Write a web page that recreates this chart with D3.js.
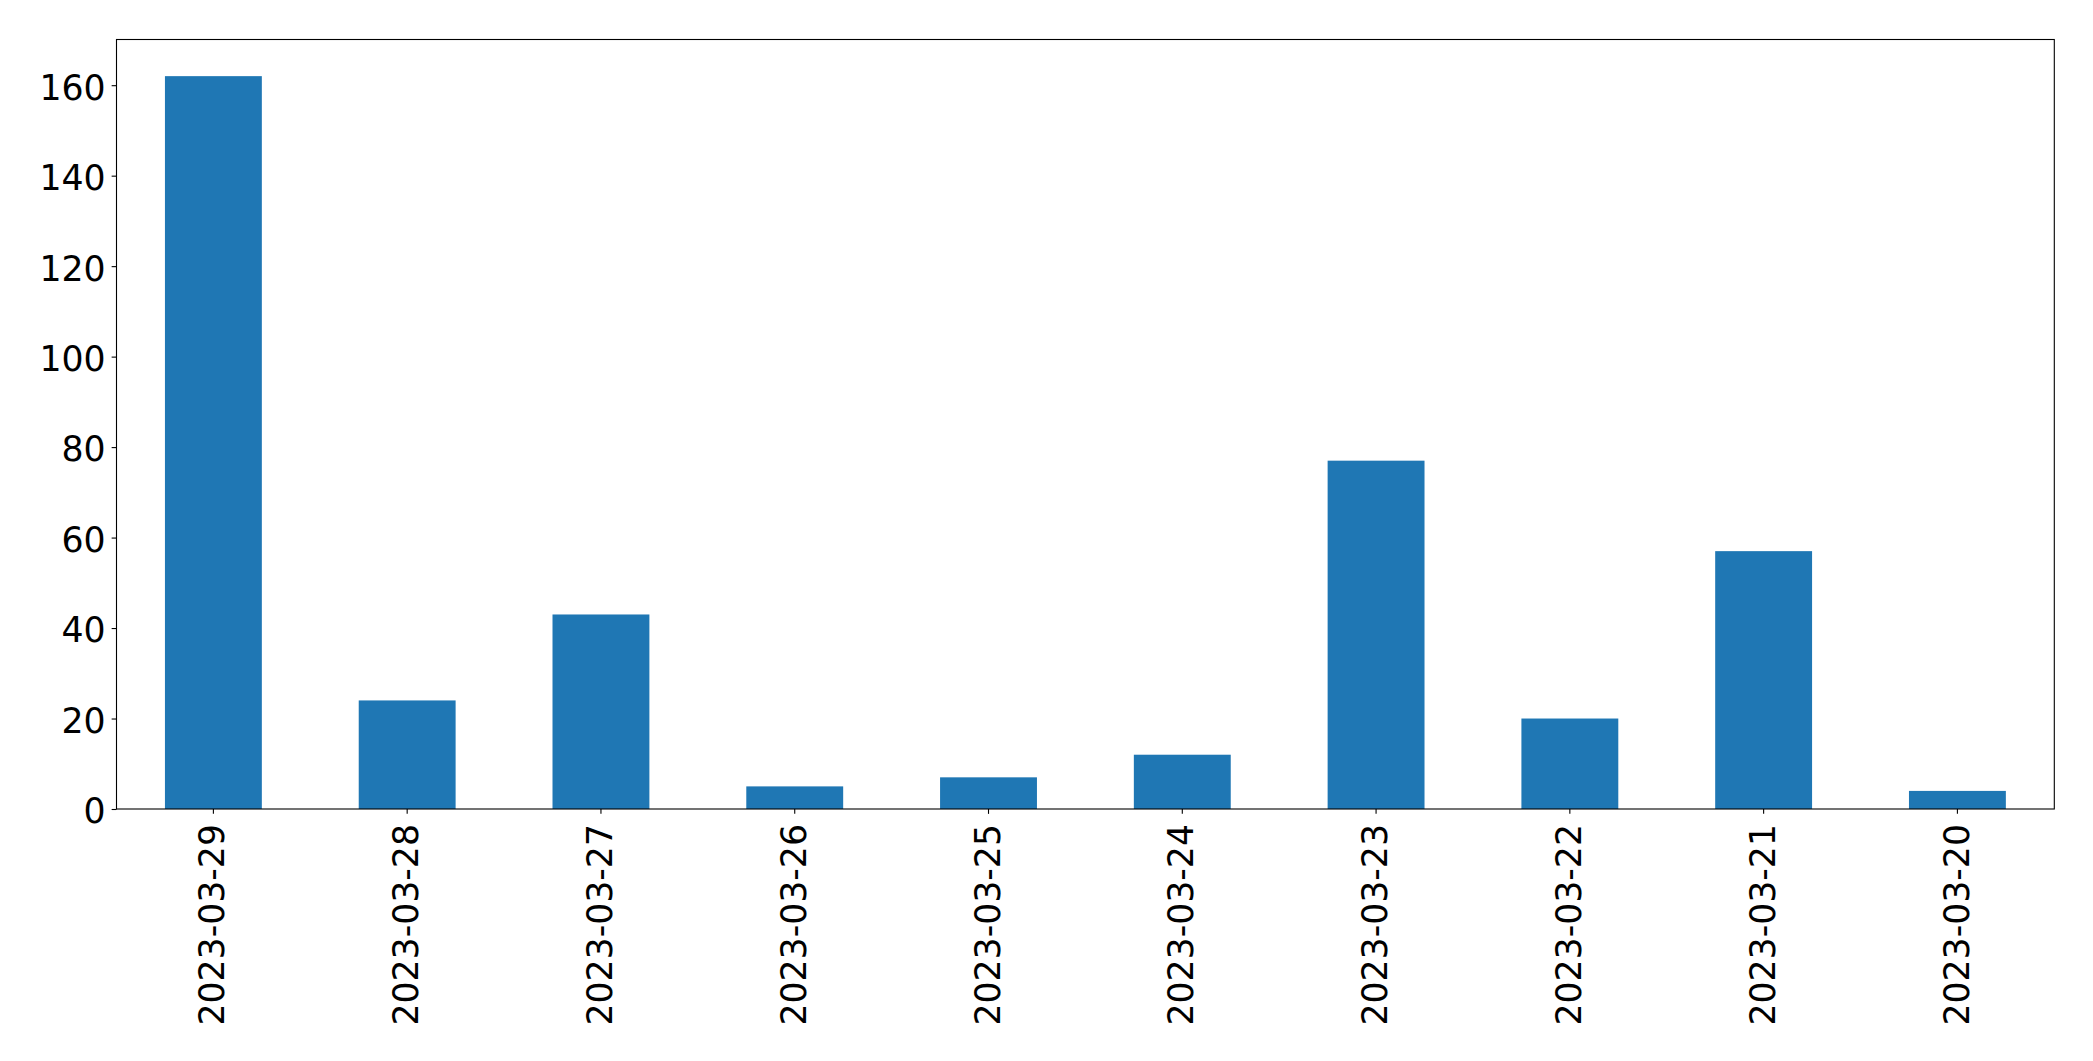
<!DOCTYPE html>
<html>
<head>
<meta charset="utf-8">
<script src="https://cdn.jsdelivr.net/npm/d3@7"></script>
<style>
  body { margin: 0; background: #fff; }
  text { font-family: "DejaVu Sans", sans-serif; fill: #000; }
</style>
</head>
<body>
<script>
// data
const dates = ["2023-03-29", "2023-03-28", "2023-03-27", "2023-03-26", "2023-03-25",
               "2023-03-24", "2023-03-23", "2023-03-22", "2023-03-21", "2023-03-20"];
const counts = [162, 24, 43, 5, 7, 12, 77, 20, 57, 4];
const yTicks = [0, 20, 40, 60, 80, 100, 120, 140, 160];

const width = 2093, height = 1061;
const margin = { top: 39.5, right: 2093 - 2054.3, bottom: 1061 - 809, left: 116.5 };
const fontSize = 34.7;
const tickLen = 4.86;

const svg = d3.select("body")
  .append("svg")
  .attr("width", width)
  .attr("height", height);

const x = d3.scaleBand()
  .domain(dates)
  .range([margin.left, width - margin.right])
  .paddingInner(0.5)
  .paddingOuter(0.25);

// matplotlib adds 5% headroom
const y = d3.scaleLinear()
  .domain([0, d3.max(counts) * 1.05])
  .range([height - margin.bottom, margin.top]);

// bars
svg.append("g")
  .selectAll("rect")
  .data(dates.map((d, i) => ({ date: d, value: counts[i] })))
  .join("rect")
  .attr("x", d => x(d.date))
  .attr("y", d => y(d.value))
  .attr("width", x.bandwidth())
  .attr("height", d => y(0) - y(d.value))
  .attr("fill", "#1f77b4");

// y axis
const yAxis = svg.append("g")
  .attr("transform", `translate(${margin.left},0)`)
  .call(d3.axisLeft(y).tickValues(yTicks).tickSize(tickLen).tickPadding(6));
yAxis.select(".domain").remove();
yAxis.selectAll(".tick line").attr("stroke", "#000").attr("stroke-width", 1.1);
yAxis.selectAll(".tick text")
  .style("font-size", fontSize + "px")
  .attr("fill", "#000")
  .attr("dy", "0.4em");

// x axis
const xAxis = svg.append("g")
  .attr("transform", `translate(0,${height - margin.bottom})`)
  .call(d3.axisBottom(x).tickSize(tickLen).tickPadding(0));
xAxis.select(".domain").remove();
xAxis.selectAll(".tick line").attr("stroke", "#000").attr("stroke-width", 1.1);
xAxis.selectAll(".tick text")
  .style("font-size", fontSize + "px")
  .attr("fill", "#000")
  .attr("text-anchor", "end")
  .attr("transform", "translate(0,15) rotate(-90)")
  .attr("x", 0)
  .attr("y", 0)
  .attr("dy", "0.32em");

// frame
svg.append("rect")
  .attr("x", margin.left)
  .attr("y", margin.top)
  .attr("width", width - margin.left - margin.right)
  .attr("height", height - margin.top - margin.bottom)
  .attr("fill", "none")
  .attr("stroke", "#000")
  .attr("stroke-width", 1.1);
</script>
</body>
</html>
